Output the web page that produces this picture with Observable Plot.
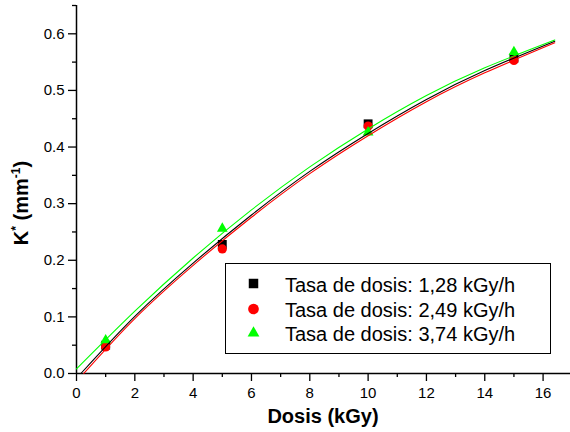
<!DOCTYPE html>
<html>
<head>
<meta charset="utf-8">
<script src="https://cdn.jsdelivr.net/npm/d3@7"></script>
<script src="https://cdn.jsdelivr.net/npm/@observablehq/plot@0.6"></script>
<style>
  html, body { margin: 0; padding: 0; background: white; }
  #chart { width: 570px; height: 432px; }
</style>
</head>
<body>
<div id="chart"></div>
<script>
// Measured points: K* versus dose for three dose rates
const doses = [1, 5, 10, 15];
const k128 = [0.050, 0.228, 0.441, 0.557];
const k249 = [0.047, 0.220, 0.437, 0.553];
const k374 = [0.059, 0.256, 0.426, 0.568];

// Fitted curves, sampled along the dose axis
const fitDose128 = [0.15, 2, 4, 6, 8, 10, 12, 14, 16.4];
const fit128 = [0, 0.101, 0.195, 0.280, 0.357, 0.424, 0.484, 0.535, 0.587];
const fitDose249 = [0.25, 2, 4, 6, 8, 10, 12, 14, 16.4];
const fit249 = [0, 0.097, 0.191, 0.276, 0.353, 0.420, 0.480, 0.531, 0.584];
const fitDose374 = [0, 2, 4, 6, 8, 10, 12, 14, 16.4];
const fit374 = [0.008, 0.110, 0.204, 0.289, 0.365, 0.432, 0.491, 0.540, 0.589];

// Axis ticks
const xTicks = [0, 2, 4, 6, 8, 10, 12, 14, 16];
const xMinor = [1, 3, 5, 7, 9, 11, 13, 15];
const yTicks = [0, 0.1, 0.2, 0.3, 0.4, 0.5, 0.6];
const yMinor = [0.05, 0.15, 0.25, 0.35, 0.45, 0.55, 0.65];

const seriesLabels = [
  "Tasa de dosis: 1,28 kGy/h",
  "Tasa de dosis: 2,49 kGy/h",
  "Tasa de dosis: 3,74 kGy/h"
];
const seriesColors = ["#000000", "#ff0000", "#00ff00"];

const rows = (xs, ys) => xs.map((d, i) => ({dose: d, k: ys[i]}));

const font = "'Liberation Sans', Arial, sans-serif";

const svg = Plot.plot({
  width: 570,
  height: 432,
  marginLeft: 76,
  marginRight: 0,
  marginTop: 5,
  marginBottom: 59,
  style: {fontFamily: font, fontSize: "15px", color: "black", background: "white", overflow: "visible"},
  x: {domain: [0, 16.94]},
  y: {domain: [0, 0.65]},
  marks: [
    Plot.axisX({ticks: xMinor, tickSize: 4, tickFormat: () => "", label: null, strokeWidth: 1.3}),
    Plot.axisX({ticks: xTicks, tickSize: 8, tickPadding: 6, tickFormat: d3.format("d"), fontSize: 15, label: null, strokeWidth: 1.3}),
    Plot.axisY({ticks: yMinor, tickSize: 4, tickFormat: () => "", label: null, strokeWidth: 1.3}),
    Plot.axisY({ticks: yTicks, tickSize: 8, tickPadding: 4, tickFormat: d3.format(".1f"), fontSize: 15, label: null, strokeWidth: 1.3}),
    Plot.ruleX([0], {stroke: "black", strokeWidth: 1.5}),
    Plot.ruleY([0], {stroke: "black", strokeWidth: 1.5}),
    Plot.dot(rows(doses, k128), {x: "dose", y: "k", symbol: "square", fill: seriesColors[0], r: 5}),
    Plot.dot(rows(doses, k249), {x: "dose", y: "k", symbol: "circle", fill: seriesColors[1], r: 4.6}),
    Plot.dot(rows(doses, k374), {x: "dose", y: "k", symbol: "triangle", fill: seriesColors[2], r: 4}),
    Plot.line(rows(fitDose249, fit249), {x: "dose", y: "k", stroke: seriesColors[1], strokeWidth: 1.1, curve: "natural"}),
    Plot.line(rows(fitDose128, fit128), {x: "dose", y: "k", stroke: seriesColors[0], strokeWidth: 1.1, curve: "natural"}),
    Plot.line(rows(fitDose374, fit374), {x: "dose", y: "k", stroke: seriesColors[2], strokeWidth: 1.1, curve: "natural"})
  ]
});

const root = d3.select(svg);

// Axis titles
root.append("text")
  .attr("x", 323).attr("y", 423)
  .attr("text-anchor", "middle")
  .attr("font-family", font).attr("font-size", 20).attr("font-weight", "bold")
  .attr("fill", "black")
  .text("Dosis (kGy)");

const yTitle = root.append("text")
  .attr("transform", "translate(28,203) rotate(-90)")
  .attr("text-anchor", "middle")
  .attr("font-family", font).attr("font-size", 20).attr("font-weight", "bold")
  .attr("fill", "black");
yTitle.append("tspan").text("K");
yTitle.append("tspan").attr("font-size", 12).attr("dy", -8).text("*");
yTitle.append("tspan").attr("dy", 8).text(" (mm");
yTitle.append("tspan").attr("font-size", 12).attr("dy", -8).text("-1");
yTitle.append("tspan").attr("dy", 8).text(")");

// Legend box
const legend = root.append("g");
legend.append("rect")
  .attr("x", 225.5).attr("y", 263.5).attr("width", 325).attr("height", 90)
  .attr("fill", "white").attr("stroke", "black").attr("stroke-width", 1);
const legendSymbols = [
  {type: d3.symbolSquare, size: 90, cy: 283.5, base: 291.5},
  {type: d3.symbolCircle, size: 90, cy: 309, base: 316.5},
  {type: d3.symbolTriangle, size: 60, cy: 333, base: 341}
];
legendSymbols.forEach((s, i) => {
  legend.append("path")
    .attr("d", d3.symbol(s.type, s.size)())
    .attr("transform", `translate(253.5,${s.cy})`)
    .attr("fill", seriesColors[i]);
  legend.append("text")
    .attr("x", 285).attr("y", s.base)
    .attr("text-anchor", "start")
    .attr("font-family", font).attr("font-size", 20)
    .attr("fill", "black")
    .text(seriesLabels[i]);
});

document.getElementById("chart").appendChild(svg);
</script>
</body>
</html>
